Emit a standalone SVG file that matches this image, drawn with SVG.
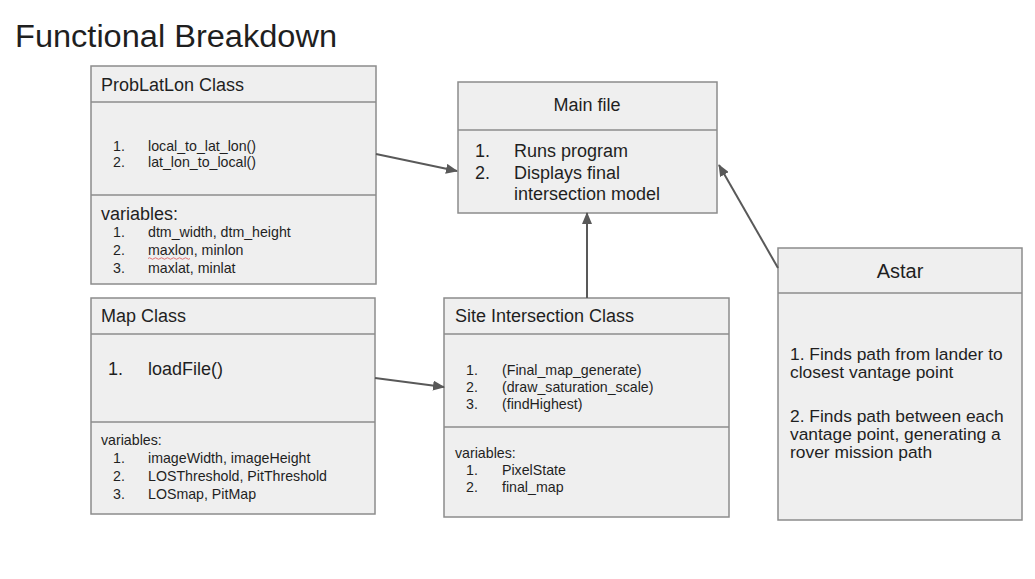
<svg xmlns="http://www.w3.org/2000/svg" width="1035" height="579" viewBox="0 0 1035 579">
<style>
  text { font-family: "Liberation Sans", Arial, sans-serif; fill: #1f1f1f; }
  .box { fill: #efefef; stroke: #8c8c8c; stroke-width: 1.5; }
  .div { stroke: #8c8c8c; stroke-width: 1.5; }
  .h { font-size: 18px; }
  .s { font-size: 14.2px; }
  .m { font-size: 18px; }
  .a { font-size: 17.4px; }
  .conn { stroke: #595959; stroke-width: 2; fill: none; marker-end: url(#arr); }
</style>
<defs>
  <marker id="arr" viewBox="0 0 12 10" refX="11" refY="5" markerWidth="12" markerHeight="10" markerUnits="userSpaceOnUse" orient="auto">
    <path d="M0,0 L12,5 L0,10 Z" fill="#595959"/>
  </marker>
</defs>
<rect width="1035" height="579" fill="#ffffff"/>
<text x="15" y="47" style="font-size:31px" textLength="322" lengthAdjust="spacingAndGlyphs">Functional Breakdown</text>

<g id="problatlon">
  <rect class="box" x="91" y="66" width="285" height="218"/>
  <line class="div" x1="91" y1="102" x2="376" y2="102"/>
  <line class="div" x1="91" y1="195" x2="376" y2="195"/>
  <text class="h" x="101" y="91">ProbLatLon Class</text>
  <text class="s" x="113" y="151">1.</text>
  <text class="s" x="148" y="151">local_to_lat_lon()</text>
  <text class="s" x="113" y="167">2.</text>
  <text class="s" x="148" y="167">lat_lon_to_local()</text>
  <text class="h" x="101" y="220">variables:</text>
  <text class="s" x="113" y="237">1.</text>
  <text class="s" x="148" y="237">dtm_width, dtm_height</text>
  <text class="s" x="113" y="255">2.</text>
  <text class="s" x="148" y="255">maxlon, minlon</text>
  <path d="M148,258.5 q1.5,-1.5 3,0 t3,0 t3,0 t3,0 t3,0 t3,0 t3,0 t3,0 t3,0 t3,0 t3,0 t3,0 t3,0 t3,0" fill="none" stroke="#e06666" stroke-width="0.9"/>
  <text class="s" x="113" y="273">3.</text>
  <text class="s" x="148" y="273">maxlat, minlat</text>
</g>

<g id="mapclass">
  <rect class="box" x="91" y="298" width="284" height="216"/>
  <line class="div" x1="91" y1="334" x2="375" y2="334"/>
  <line class="div" x1="91" y1="422" x2="375" y2="422"/>
  <text class="h" x="101" y="322">Map Class</text>
  <text class="m" x="108" y="375">1.</text>
  <text class="m" x="148" y="375">loadFile()</text>
  <text class="s" x="101" y="445">variables:</text>
  <text class="s" x="113" y="463">1.</text>
  <text class="s" x="148" y="463">imageWidth, imageHeight</text>
  <text class="s" x="113" y="481">2.</text>
  <text class="s" x="148" y="481">LOSThreshold, PitThreshold</text>
  <text class="s" x="113" y="499">3.</text>
  <text class="s" x="148" y="499">LOSmap, PitMap</text>
</g>

<g id="siteintersection">
  <rect class="box" x="444" y="298" width="285" height="219"/>
  <line class="div" x1="444" y1="334" x2="729" y2="334"/>
  <line class="div" x1="444" y1="427" x2="729" y2="427"/>
  <text class="h" x="455" y="322">Site Intersection Class</text>
  <text class="s" x="466" y="375">1.</text>
  <text class="s" x="502" y="375">(Final_map_generate)</text>
  <text class="s" x="466" y="392">2.</text>
  <text class="s" x="502" y="392">(draw_saturation_scale)</text>
  <text class="s" x="466" y="409">3.</text>
  <text class="s" x="502" y="409">(findHighest)</text>
  <text class="s" x="455" y="458">variables:</text>
  <text class="s" x="466" y="475">1.</text>
  <text class="s" x="502" y="475">PixelState</text>
  <text class="s" x="466" y="492">2.</text>
  <text class="s" x="502" y="492">final_map</text>
</g>

<g id="mainfile">
  <rect class="box" x="458" y="82" width="259" height="131"/>
  <line class="div" x1="458" y1="130" x2="717" y2="130"/>
  <text class="h" x="587" y="111" text-anchor="middle">Main file</text>
  <text class="m" x="475" y="157">1.</text>
  <text class="m" x="514" y="157">Runs program</text>
  <text class="m" x="475" y="179">2.</text>
  <text class="m" x="514" y="179">Displays final</text>
  <text class="m" x="514" y="200">intersection model</text>
</g>

<g id="astar">
  <rect class="box" x="778" y="248" width="244" height="272"/>
  <line class="div" x1="778" y1="293" x2="1022" y2="293"/>
  <text x="900" y="278" text-anchor="middle" style="font-size:20px">Astar</text>
  <text class="a" x="790" y="360">1. Finds path from lander to</text>
  <text class="a" x="790" y="378">closest vantage point</text>
  <text class="a" x="790" y="422">2. Finds path between each</text>
  <text class="a" x="790" y="440">vantage point, generating a</text>
  <text class="a" x="790" y="458">rover mission path</text>
</g>

<g id="connectors">
  <line class="conn" x1="376" y1="154" x2="457" y2="171"/>
  <line class="conn" x1="375" y1="378" x2="444" y2="387"/>
  <line class="conn" x1="587" y1="298" x2="587" y2="213"/>
  <line class="conn" x1="778" y1="268" x2="719" y2="165"/>
</g>
</svg>
